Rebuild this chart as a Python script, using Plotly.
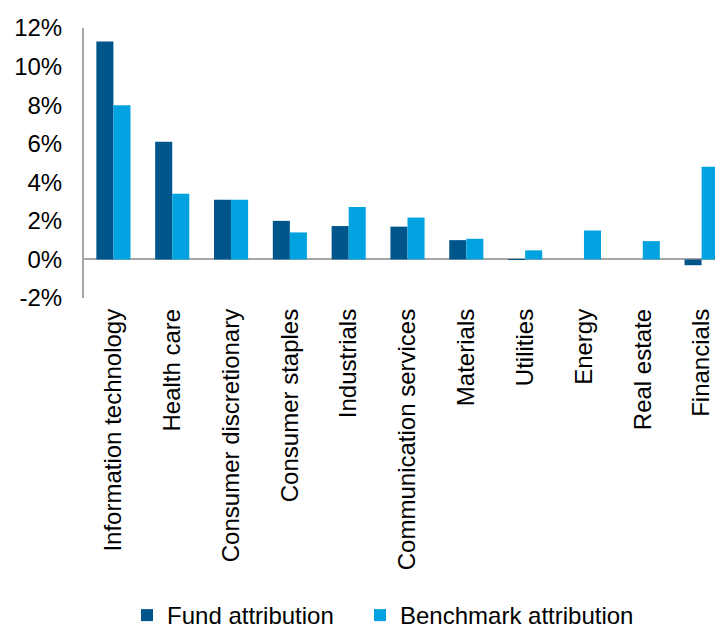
import plotly.graph_objects as go

categories = ["Information technology", "Health care", "Consumer discretionary",
              "Consumer staples", "Industrials", "Communication services",
              "Materials", "Utilities", "Energy", "Real estate", "Financials"]
fund = [11.3, 6.1, 3.1, 2.0, 1.73, 1.7, 1.0, 0.01, 0.0, 0.0, -0.3]
benchmark = [8.0, 3.4, 3.1, 1.4, 2.72, 2.17, 1.07, 0.47, 1.5, 0.95, 4.8]
ytick_vals = [-2, 0, 2, 4, 6, 8, 10, 12]
ytick_text = ["-2%", "0%", "2%", "4%", "6%", "8%", "10%", "12%"]

FONT = "Liberation Sans, Arial, sans-serif"

fig = go.Figure()
fig.add_trace(go.Bar(name="Fund attribution", x=categories, y=fund, legend="legend",
                     marker=dict(color="#00558B", line=dict(width=0))))
fig.add_trace(go.Bar(name="Benchmark attribution", x=categories, y=benchmark, legend="legend2",
                     marker=dict(color="#00A2DF", line=dict(width=0))))

leg_common = dict(orientation="h", xanchor="left", y=-1.176, yanchor="middle",
                  font=dict(size=24, family=FONT), itemwidth=30, bgcolor="rgba(0,0,0,0)")

fig.update_layout(
    width=723, height=628,
    barmode="group", bargap=0.42, bargroupgap=0,
    plot_bgcolor="white", paper_bgcolor="white",
    font=dict(family=FONT, size=24, color="#000000"),
    margin=dict(l=76, r=0, t=20, b=338, autoexpand=False),
    showlegend=True,
    legend=dict(x=0.0665, **leg_common),
    legend2=dict(x=0.4266, **leg_common),
    xaxis=dict(range=[-0.5, 10.5], tickangle=-90, showline=False, ticks="",
               showgrid=False, zeroline=False, ticklabelstandoff=5,
               tickfont=dict(size=24, family=FONT), fixedrange=True),
    yaxis=dict(range=[-2, 12], tickvals=ytick_vals, ticktext=ytick_text,
               showgrid=False, showline=True, linecolor="#A6A6A6", linewidth=2,
               zeroline=True, zerolinecolor="#A6A6A6", zerolinewidth=2,
               ticks="", ticklabelstandoff=15,
               tickfont=dict(size=24, family=FONT)),
)

fig.write_html("out.html")
